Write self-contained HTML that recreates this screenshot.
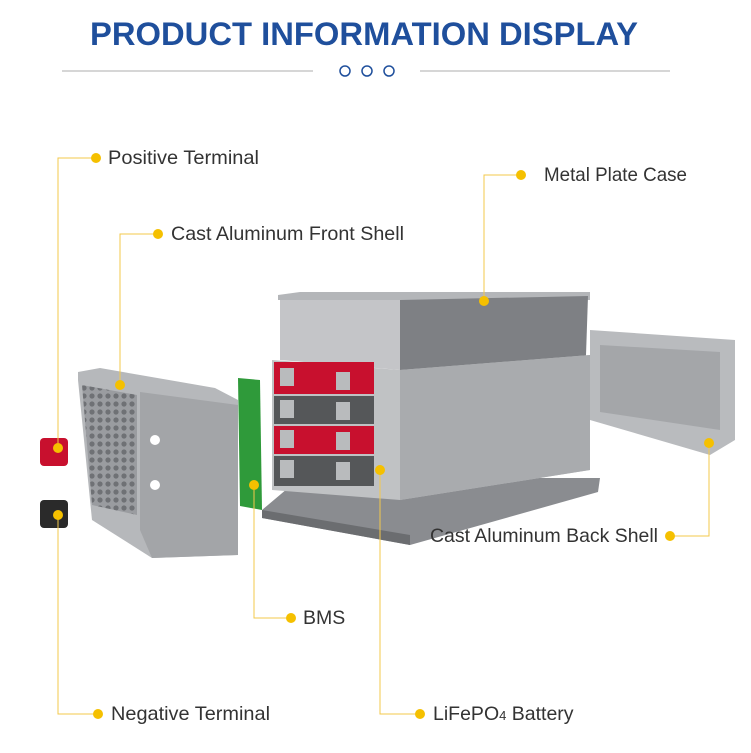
<!DOCTYPE html>
<html><head><meta charset="utf-8"><style>
body{margin:0;background:#fff;}
svg{display:block}
text{font-family:"Liberation Sans",sans-serif;}
</style></head><body>
<svg width="751" height="753" viewBox="0 0 751 753" xmlns="http://www.w3.org/2000/svg">
<defs>
<pattern id="hc" width="8" height="8" patternUnits="userSpaceOnUse"><rect width="8" height="8" fill="#9a9ca0"/><circle cx="4" cy="4" r="2.6" fill="#6f7175"/></pattern>
</defs>
<rect width="751" height="753" fill="#fff"/>
<text x="364" y="45" text-anchor="middle" font-size="32" font-weight="bold" fill="#1f4f9c" textLength="548" lengthAdjust="spacingAndGlyphs">PRODUCT INFORMATION DISPLAY</text>
<line x1="62" y1="71" x2="313" y2="71" stroke="#c8c8c8" stroke-width="1.5"/>
<line x1="420" y1="71" x2="670" y2="71" stroke="#c8c8c8" stroke-width="1.5"/>
<g fill="none" stroke="#1f4f9c" stroke-width="1.5"><circle cx="345" cy="71" r="5"/><circle cx="367" cy="71" r="5"/><circle cx="389" cy="71" r="5"/></g>

<!-- base plate -->
<polygon points="262,510 300,478 600,478 598,492 410,545 262,518" fill="#8a8c90"/>
<polygon points="262,510 410,535 410,545 262,518" fill="#6b6d70"/>
<!-- metal case -->
<polygon points="278,295 300,292 590,292 590,300 400,300 278,300" fill="#b4b6b9"/>
<polygon points="280,300 400,300 400,370 280,360" fill="#c4c5c8"/>
<polygon points="400,300 588,296 585,385 400,410" fill="#7e8084"/>
<!-- battery stack -->
<polygon points="272,360 400,370 590,355 590,470 400,500 272,490" fill="#c0c2c4"/>
<polygon points="400,370 590,355 590,470 400,500" fill="#a9abae"/>
<g>
<rect x="274" y="362" width="100" height="32" fill="#c8102e"/>
<rect x="274" y="396" width="100" height="28" fill="#555759"/>
<rect x="274" y="426" width="100" height="28" fill="#c8102e"/>
<rect x="274" y="456" width="100" height="30" fill="#555759"/>
<g fill="#b9bbbd">
<rect x="280" y="368" width="14" height="18"/><rect x="336" y="372" width="14" height="18"/>
<rect x="280" y="400" width="14" height="18"/><rect x="336" y="402" width="14" height="18"/>
<rect x="280" y="430" width="14" height="18"/><rect x="336" y="432" width="14" height="18"/>
<rect x="280" y="460" width="14" height="18"/><rect x="336" y="462" width="14" height="18"/>
</g>
</g>
<!-- back shell -->
<polygon points="590,330 735,340 735,440 710,455 590,420" fill="#b9bbbe"/>
<polygon points="600,345 720,352 720,430 600,412" fill="#a4a6a9"/>
<!-- BMS -->
<polygon points="238,378 260,380 262,510 240,506" fill="#2f9a3a"/>
<!-- front shell -->
<polygon points="78,372 100,368 215,388 238,400 238,555 152,558 92,520 78,380" fill="#b6b8bb"/>
<polygon points="140,392 238,405 238,555 152,558 140,530" fill="#a3a5a8"/>
<polygon points="82,385 137,395 137,515 92,505" fill="url(#hc)"/>
<circle cx="155" cy="440" r="5" fill="#fff"/><circle cx="155" cy="485" r="5" fill="#fff"/>
<!-- terminals -->
<rect x="40" y="438" width="28" height="28" rx="4" fill="#c8102e"/>
<rect x="40" y="500" width="28" height="28" rx="4" fill="#2a2a2a"/>

<!-- leader lines -->
<g fill="none" stroke="#f3c84b" stroke-width="1">
<polyline points="96,158 58,158 58,448"/>
<polyline points="158,234 120,234 120,385"/>
<polyline points="521,175 484,175 484,301"/>
<polyline points="670,536 709,536 709,443"/>
<polyline points="291,618 254,618 254,485"/>
<polyline points="98,714 58,714 58,515"/>
<polyline points="420,714 380,714 380,470"/>
</g>
<g fill="#f5c000">
<circle cx="96" cy="158" r="5"/><circle cx="58" cy="448" r="5"/>
<circle cx="158" cy="234" r="5"/><circle cx="120" cy="385" r="5"/>
<circle cx="521" cy="175" r="5"/><circle cx="484" cy="301" r="5"/>
<circle cx="670" cy="536" r="5"/><circle cx="709" cy="443" r="5"/>
<circle cx="291" cy="618" r="5"/><circle cx="254" cy="485" r="5"/>
<circle cx="98" cy="714" r="5"/><circle cx="58" cy="515" r="5"/>
<circle cx="420" cy="714" r="5"/><circle cx="380" cy="470" r="5"/>
</g>
<g font-size="19.5" fill="#333">
<text x="108" y="164" textLength="151" lengthAdjust="spacingAndGlyphs">Positive Terminal</text>
<text x="171" y="240" textLength="233" lengthAdjust="spacingAndGlyphs">Cast Aluminum Front Shell</text>
<text x="544" y="181" textLength="143" lengthAdjust="spacingAndGlyphs">Metal Plate Case</text>
<text x="430" y="542" textLength="228" lengthAdjust="spacingAndGlyphs">Cast Aluminum Back Shell</text>
<text x="303" y="624">BMS</text>
<text x="111" y="720" textLength="159" lengthAdjust="spacingAndGlyphs">Negative Terminal</text>
<text x="433" y="720">LiFePO<tspan font-size="13">4</tspan> Battery</text>
</g>
</svg>
</body></html>
